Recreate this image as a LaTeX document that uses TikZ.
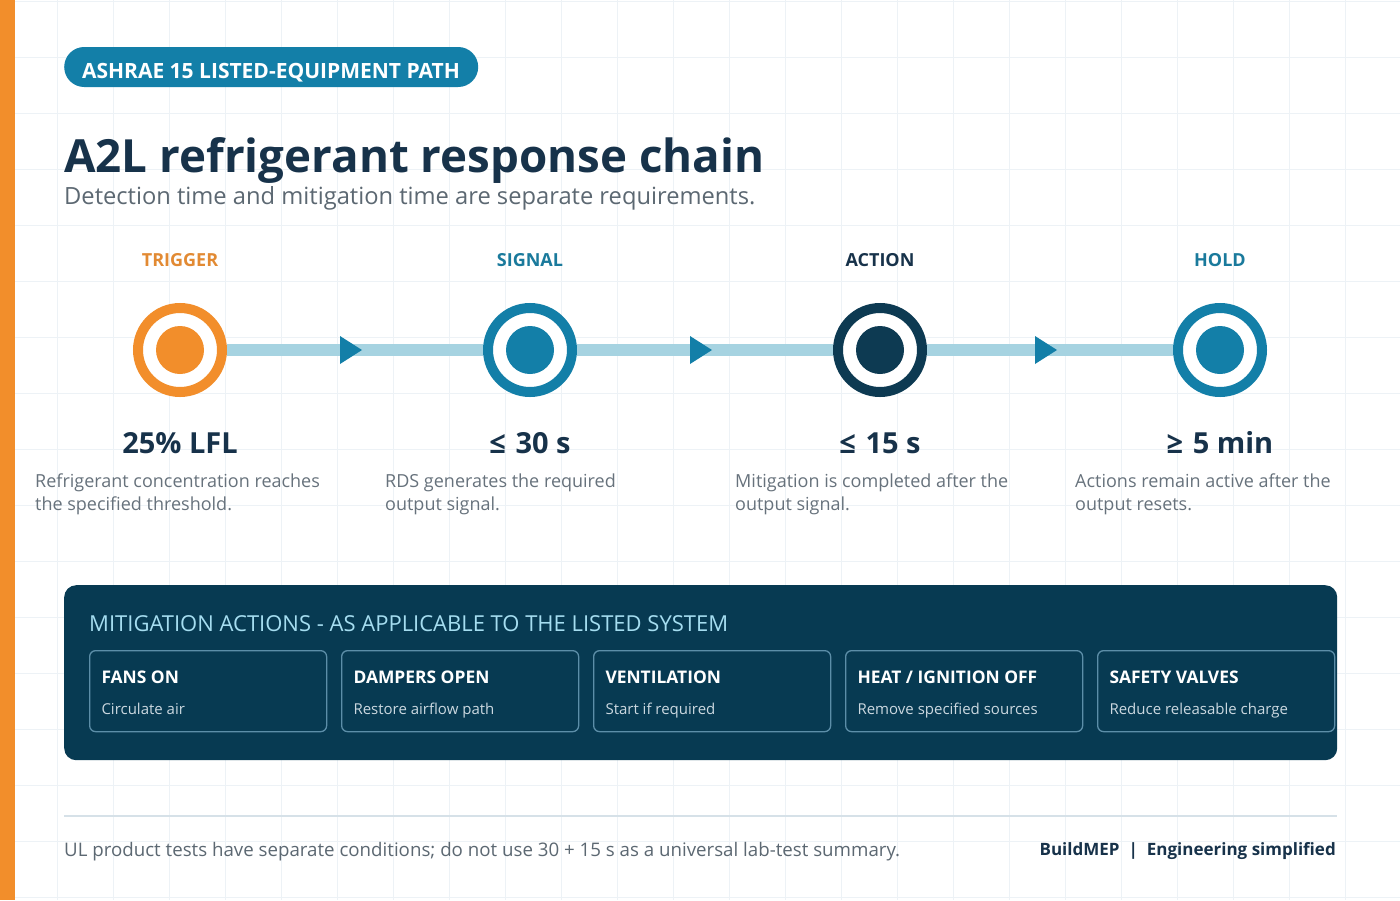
\documentclass[tikz,border=0pt]{standalone}
\usepackage{fontspec}
\setmainfont{Open Sans}
\usetikzlibrary{positioning,decorations.markings}

\definecolor{barorange}{HTML}{F28E2B}
\definecolor{trigorange}{HTML}{E28A33}
\definecolor{teal}{HTML}{137FA8}
\definecolor{tealtext}{HTML}{1A7A9C}
\definecolor{navy}{HTML}{0D3A52}
\definecolor{ink}{HTML}{17324A}
\definecolor{gray}{HTML}{5C6872}
\definecolor{descgray}{HTML}{67727C}
\definecolor{linkblue}{HTML}{A6D3E1}
\definecolor{panelbg}{HTML}{073A52}
\definecolor{panelhead}{HTML}{A5DDF0}
\definecolor{boxline}{HTML}{5C8EA8}
\definecolor{boxsub}{HTML}{CBD8E0}
\definecolor{gridline}{HTML}{EDF2F6}
\definecolor{rulegray}{HTML}{D6E1E8}

\tikzset{
  ring/.style={circle, draw=#1, line width=10pt, minimum size=84pt, inner sep=0pt, fill=white,
    path picture={\fill[#1] (path picture bounding box.center) circle[radius=24pt];}},
  stage/.style={anchor=base, font=\fontsize{18}{21}\selectfont\bfseries},
  value/.style={anchor=base, text=ink, font=\fontsize{29}{33}\selectfont\bfseries},
  desc/.style={anchor=north west, inner sep=0pt, align=left, text=descgray,
    font=\fontsize{18}{23}\selectfont},
  link/.style={line width=12pt, draw=linkblue,
    postaction={decorate, decoration={markings, mark=at position 0.5 with
      {\fill[teal] (-15pt,-14pt) -- (7pt,0pt) -- (-15pt,14pt) -- cycle;}}}},
  actbox/.style={draw=boxline, line width=1.3pt, rounded corners=6pt, fill=panelbg,
    minimum width=237pt, minimum height=81pt, anchor=north west, inner sep=0pt},
  acthead/.style={anchor=base west, text=white, font=\fontsize{17.4}{20}\selectfont\bfseries},
  actsub/.style={anchor=base west, text=boxsub, font=\fontsize{15}{18}\selectfont}
}

\begin{document}
\begin{tikzpicture}[x=1pt, y=-1pt]
\useasboundingbox (0,0) rectangle (1400,900);
\fill[white] (0,0) rectangle (1400,900);
% background grid
\foreach \g in {1,57,...,1400} \draw[gridline, line width=0.8pt] (\g,0) -- (\g,900);
\foreach \g in {1,57,...,900} \draw[gridline, line width=0.8pt] (0,\g) -- (1400,\g);
\fill[barorange] (0,0) rectangle (15,900);

% heading
\node[fill=teal, rounded corners=20pt, minimum width=414pt, minimum height=40pt,
  inner sep=0pt, anchor=west] (tag) at (64,67) {};
\node[anchor=base, inner sep=0pt, text=white, font=\fontsize{21}{24}\selectfont\bfseries]
  (tagtext) at (271,78) {ASHRAE 15 LISTED-EQUIPMENT PATH};
\node[anchor=base west, inner sep=0pt, text=ink, font=\fontsize{45.7}{50}\selectfont\bfseries]
  (title) at (64,172) {A2L refrigerant response chain};
\node[anchor=base west, inner sep=0pt, text=gray, font=\fontsize{23.7}{27}\selectfont]
  (subtitle) at (64,204) {Detection time and mitigation time are separate requirements.};

% chain
\node[stage, text=trigorange] (lbltrig) at (180,266) {TRIGGER};
\node[stage, text=tealtext] (lblsig) at (530,266) {SIGNAL};
\node[stage, text=ink] (lblact) at (880,266) {ACTION};
\node[stage, text=tealtext] (lblhold) at (1220,266) {HOLD};

\node[ring=barorange] (trig) at (180,350) {};
\node[ring=teal] (sig) at (530,350) {};
\node[ring=navy] (act) at (880,350) {};
\node[ring=teal] (hold) at (1220,350) {};

\draw[link] (trig) -- (sig);
\draw[link] (sig) -- (act);
\draw[link] (act) -- (hold);

\node[value] (valtrig) at (180,453) {25\% LFL};
\node[value] (valsig) at (530,453) {≤\hspace{2pt} 30 s};
\node[value] (valact) at (880,453) {≤\hspace{2pt} 15 s};
\node[value] (valhold) at (1220,453) {≥\hspace{2pt} 5 min};

\node[desc] (dtrig) at (35,474) {Refrigerant concentration reaches\\the specified threshold.};
\node[desc] (dsig) at (385,474) {RDS generates the required\\output signal.};
\node[desc] (dact) at (735,474) {Mitigation is completed after the\\output signal.};
\node[desc] (dhold) at (1075,474) {Actions remain active after the\\output resets.};

% mitigation panel
\node[fill=panelbg, rounded corners=12pt, minimum width=1273pt, minimum height=175pt,
  inner sep=0pt, anchor=north west] (panel) at (64,585) {};
\node[anchor=base west, inner sep=0pt, text=panelhead, font=\fontsize{22}{26}\selectfont]
  (panelttl) at (89,631) {MITIGATION ACTIONS - AS APPLICABLE TO THE LISTED SYSTEM};

\foreach \i/\head/\sub in {0/FANS ON/Circulate air, 1/DAMPERS OPEN/Restore airflow path,
    2/VENTILATION/Start if required, 3/{HEAT / IGNITION OFF}/Remove specified sources,
    4/SAFETY VALVES/Reduce releasable charge}{
  \node[actbox] (box\i) at (89+252*\i,650) {};
  \node[acthead] (head\i) at (98+252*\i,683) {\head};
  \node[actsub] (sub\i) at (98+252*\i,714) {\sub};
}

% footer
\coordinate (rulel) at (64,816);
\coordinate (ruler) at (1337,816);
\draw[rulegray, line width=2pt] (rulel) -- (ruler);
\node[anchor=base west, inner sep=0pt, text=gray, font=\fontsize{18.7}{22}\selectfont] (note) at (64,856)
  {UL product tests have separate conditions; do not use 30 + 15 s as a universal lab-test summary.};
\node[anchor=base east, inner sep=0pt, text=ink, font=\fontsize{17}{22}\selectfont\bfseries] (brand) at (1336,855)
  {BuildMEP\hspace{9pt}|\hspace{9pt}Engineering simplified};
\end{tikzpicture}
\end{document}
